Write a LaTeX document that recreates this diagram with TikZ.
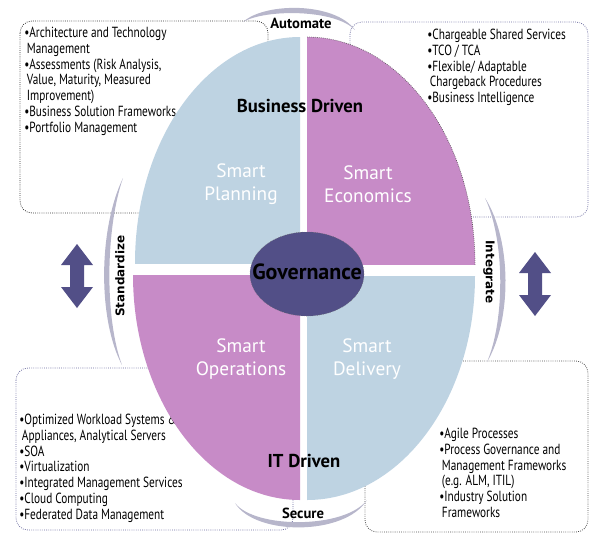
\documentclass[tikz,border=0pt]{standalone}
\usepackage{fontspec}
\setmainfont{PT Sans}
\newfontfamily\listfont[FakeStretch=0.77]{PT Sans}
\newfontfamily\wideboldfont{DejaVu Sans}
\usetikzlibrary{positioning}
\definecolor{planblue}{HTML}{BED3E2}
\definecolor{smartpurple}{HTML}{C78BC7}
\definecolor{govblue}{HTML}{524F87}
\definecolor{arcgray}{HTML}{B7B6CB}
\definecolor{boxline}{HTML}{6A6A9E}

\begin{document}
\begin{tikzpicture}[x=0.75pt,y=-0.75pt,
    itemlist/.style={anchor=north west, align=left, inner sep=0pt,
      font=\listfont\fontsize{11}{11.8}\selectfont},
    infobox/.style={rounded corners=9pt, densely dotted, line width=0.6pt, draw=boxline},
    smart/.style={white, align=center, font=\fontsize{14.5}{17.5}\selectfont},
    flowtag/.style={font=\bfseries\fontsize{11}{13}\selectfont},
    sidetag/.style={font=\wideboldfont\bfseries\fontsize{9}{11}\selectfont},
    driven/.style={font=\bfseries\fontsize{14}{16}\selectfont}]
  \useasboundingbox (0,0) rectangle (589,533);

  \draw[infobox, draw=black!80] (20,21) rectangle (268,213);
  \draw[infobox] (350,22) rectangle (588,217);
  \draw[infobox] (16,368) rectangle (293,530);
  \draw[infobox, draw=black!70] (365,361) rectangle (588,532);

  \node[itemlist] at (24,27) (planlist) {%
    •Architecture and Technology\\ \hspace*{2pt}Management\\
    •Assessments (Risk Analysis,\\ \hspace*{2pt}Value, Maturity, Measured\\
    \hspace*{2pt}Improvement)\\ •Business Solution Frameworks\\ •Portfolio Management};
  \node[itemlist] at (427,29) (econlist) {%
    •Chargeable Shared Services\\ •TCO / TCA\\ •Flexible/ Adaptable\\
    \hspace*{2pt}Chargeback Procedures\\ •Business Intelligence};
  \node[itemlist] at (19,414) (opslist) {%
    •Optimized Workload Systems \&\\ \hspace*{2pt}Appliances, Analytical Servers\\
    •SOA\\ •Virtualization\\ •Integrated Management Services\\
    •Cloud Computing\\ •Federated Data Management};
  \node[itemlist] at (439,428) (delivlist) {%
    •Agile Processes\\ •Process Governance and\\ \hspace*{2pt}Management Frameworks\\
    \hspace*{2pt}(e.g. ALM, ITIL)\\ •Industry Solution\\ \hspace*{2pt}Frameworks};

  \begin{scope}
    \clip (100,0) rectangle (300,263);
    \fill[planblue] (300,263) ellipse [x radius=165, y radius=226];
  \end{scope}
  \begin{scope}
    \clip (307,0) rectangle (500,264);
    \fill[smartpurple] (307,264) ellipse [x radius=168, y radius=227];
    \draw[black!70, densely dotted, line width=0.5pt] (307,264) ellipse [x radius=168, y radius=227];
  \end{scope}
  \begin{scope}
    \clip (100,275) rectangle (300,533);
    \fill[smartpurple] (300,275) ellipse [x radius=167, y radius=225];
  \end{scope}
  \begin{scope}
    \clip (307,276) rectangle (500,533);
    \fill[planblue] (307,276) ellipse [x radius=168, y radius=224];
  \end{scope}

  \fill[arcgray] (243,22) .. controls (265,2) and (335,2) .. (355,30)
    .. controls (335,9) and (265,9) .. (243,22) -- cycle;
  \fill[arcgray] (235,503) .. controls (255,536) and (345,536) .. (367,500)
    .. controls (345,529) and (255,529) .. (235,503) -- cycle;
  \fill[arcgray] (123,178) .. controls (98,230) and (98,320) .. (122,365)
    .. controls (105,320) and (105,230) .. (123,178) -- cycle;
  \fill[arcgray] (485,198) .. controls (512,240) and (512,320) .. (487,362)
    .. controls (505,320) and (505,240) .. (485,198) -- cycle;

  \fill[govblue] (77,244) -- (93,265) -- (84,265) -- (84,287) -- (93,287) -- (77,308)
    -- (61,287) -- (70,287) -- (70,265) -- (61,265) -- cycle;
  \fill[govblue] (535,252) -- (551,273) -- (542,273) -- (542,295) -- (551,295) -- (535,316)
    -- (519,295) -- (528,295) -- (528,273) -- (519,273) -- cycle;

  \node[flowtag] at (301,23) (automate) {Automate};
  \node[flowtag] at (303,513) (secure) {Secure};
  \node[sidetag, rotate=90] at (120,276) (standardize) {Standardize};
  \node[sidetag, rotate=-90] at (489,272) (integrate) {Integrate};

  \node[driven] at (300,106) (bizdriven) {Business Driven};
  \node[driven] at (304,461) (itdriven) {IT Driven};

  \node[smart] at (241,184) (planning) {Smart\\Planning};
  \node[smart] at (368,184) (economics) {Smart\\Economics};
  \node[smart] at (241,359) (operations) {Smart\\Operations};
  \node[smart] at (367,359) (delivery) {Smart\\Delivery};

  \filldraw[fill=govblue, draw=black!60, densely dotted] (307,274) ellipse [x radius=57, y radius=42];
  \node[font=\bfseries\fontsize{16.5}{18}\selectfont] at (307,272) (gov) {Governance};
\end{tikzpicture}
\end{document}
